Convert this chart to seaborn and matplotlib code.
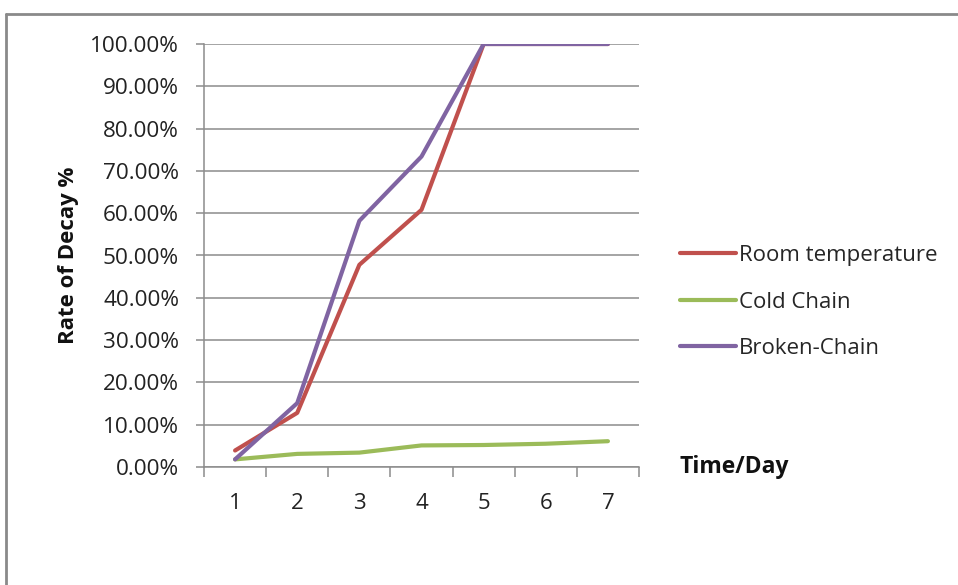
import matplotlib
matplotlib.use("Agg")
import matplotlib.pyplot as plt
import seaborn as sns
import pandas as pd
from matplotlib.lines import Line2D
from matplotlib.ticker import FixedLocator, FuncFormatter

days = [1, 2, 3, 4, 5, 6, 7]
room_temperature = [3.9, 12.8, 47.8, 60.8, 100.0, 100.0, 100.0]
cold_chain = [1.8, 3.1, 3.4, 5.1, 5.2, 5.5, 6.1]
broken_chain = [1.8, 15.1, 58.2, 73.4, 100.0, 100.0, 100.0]
series_names = ["Room temperature", "Cold Chain", "Broken-Chain"]
colors = ["#C0504D", "#9BBB59", "#8064A2"]
y_ticks = [0, 10, 20, 30, 40, 50, 60, 70, 80, 90, 100]

df = pd.DataFrame({
    "Day": days * 3,
    "Rate": room_temperature + cold_chain + broken_chain,
    "Series": [series_names[0]] * 7 + [series_names[1]] * 7 + [series_names[2]] * 7,
})

sns.set_theme(style="white")
plt.rcParams["font.family"] = ["Open Sans", "DejaVu Sans"]

fig = plt.figure(figsize=(9.58, 5.85), dpi=100)
ax = fig.add_axes([204 / 958, 1 - 467 / 585, (639 - 204) / 958, (467 - 44) / 585])

sns.lineplot(data=df, x="Day", y="Rate", hue="Series", hue_order=series_names,
             palette=colors, linewidth=3.0, ax=ax, legend=True, sort=False)

ax.set_xlim(0.5, 7.5)
ax.set_ylim(0, 100)
ax.yaxis.set_major_locator(FixedLocator(y_ticks))
ax.yaxis.set_major_formatter(FuncFormatter(lambda v, p: f"{v:.2f}%"))
ax.set_xticks(days)
ax.set_xticks([d - 0.5 for d in days] + [7.5], minor=True)
ax.grid(axis="y", color="#8c8c8c", linewidth=1.1)
ax.grid(axis="x", visible=False)

for s in ["top", "right"]:
    ax.spines[s].set_visible(False)
for s in ["left", "bottom"]:
    ax.spines[s].set_visible(True)
    ax.spines[s].set_color("#8c8c8c")
    ax.spines[s].set_linewidth(1.1)

ax.tick_params(axis="y", which="major", left=True, length=6, width=1.1, color="#8c8c8c",
               labelsize=16.2, labelcolor="#222222", pad=12)
ax.tick_params(axis="x", which="major", bottom=False, labelsize=16, labelcolor="#222222", pad=13)
ax.tick_params(axis="x", which="minor", bottom=True, length=7, width=1.1, color="#8c8c8c")

ax.set_xlabel("")
ax.set_ylabel("Rate of Decay %", fontsize=16, fontweight="bold", color="#111111", labelpad=8)
fig.text(680 / 958, 1 - 467 / 585, "Time/Day", fontsize=16.5, fontweight="bold",
         color="#111111", va="center", ha="left")

handles, labels = ax.get_legend_handles_labels()
ax.legend(handles, labels, loc="center left", bbox_to_anchor=(680 / 958, 1 - 302 / 585),
          bbox_transform=fig.transFigure, frameon=False, fontsize=16,
          handlelength=2.5, handletextpad=0.15, labelspacing=1.15, borderaxespad=0,
          borderpad=0)

fig.add_artist(Line2D([6 / 958, 1.0], [1 - 14 / 585, 1 - 14 / 585], transform=fig.transFigure,
                      color="#8a8a8a", linewidth=2))
fig.add_artist(Line2D([6 / 958, 6 / 958], [1 - 14 / 585, 0], transform=fig.transFigure,
                      color="#8a8a8a", linewidth=2))

fig.savefig("out.png", dpi=100)
